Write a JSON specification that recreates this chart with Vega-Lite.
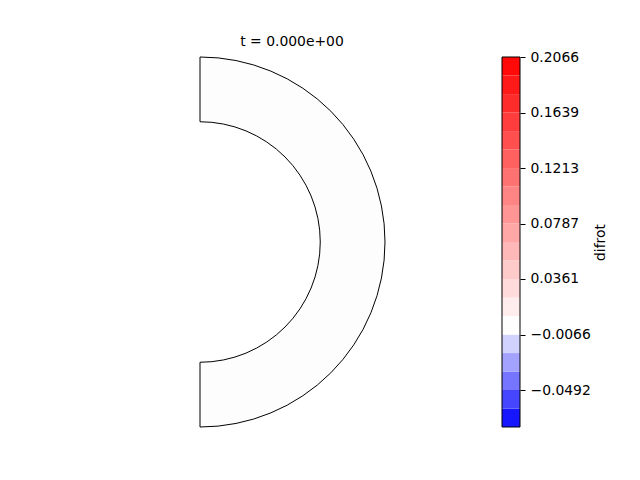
{
  "$schema": "https://vega.github.io/schema/vega-lite/v6.json",
  "padding": {"left": 15, "top": 35, "right": 5, "bottom": 5},
  "background": "white",
  "config": {"font": "DejaVu Sans", "view": {"stroke": null}},
  "bounds": "flush",
  "spacing": 117,
  "hconcat": [
    {
      "width": 370,
      "height": 370,
      "title": {"text": "t = 0.000e+00", "dx": 92, "fontSize": 13.9, "fontWeight": "normal", "font": "DejaVu Sans", "baseline": "alphabetic", "offset": -5, "color": "black", "anchor": "middle"},
      "data": {"values": [{"theta_start": 0, "theta_end": 180, "r_inner": 0.65, "r_outer": 1.0}]},
      "mark": {"type": "arc", "fill": "#fdfdfd", "stroke": "black", "strokeWidth": 1},
      "encoding": {
        "theta": {"field": "theta_start", "type": "quantitative", "stack": null, "scale": {"domain": [0, 360], "range": [0, 6.283185307179586]}},
        "theta2": {"field": "theta_end"},
        "radius": {"field": "r_inner", "type": "quantitative", "scale": {"type": "linear", "domain": [0, 1], "range": [0, 185], "zero": true}},
        "radius2": {"field": "r_outer"}
      }
    },
    {
      "width": 18,
      "height": 370,
      "data": {"values": [
        {"k": 0, "lo": -0.0776, "hi": -0.0634},
        {"k": 1, "lo": -0.0634, "hi": -0.0492},
        {"k": 2, "lo": -0.0492, "hi": -0.0350},
        {"k": 3, "lo": -0.0350, "hi": -0.0208},
        {"k": 4, "lo": -0.0208, "hi": -0.0066},
        {"k": 5, "lo": -0.0066, "hi": 0.0076},
        {"k": 6, "lo": 0.0076, "hi": 0.0218},
        {"k": 7, "lo": 0.0218, "hi": 0.0361},
        {"k": 8, "lo": 0.0361, "hi": 0.0503},
        {"k": 9, "lo": 0.0503, "hi": 0.0645},
        {"k": 10, "lo": 0.0645, "hi": 0.0787},
        {"k": 11, "lo": 0.0787, "hi": 0.0929},
        {"k": 12, "lo": 0.0929, "hi": 0.1071},
        {"k": 13, "lo": 0.1071, "hi": 0.1213},
        {"k": 14, "lo": 0.1213, "hi": 0.1355},
        {"k": 15, "lo": 0.1355, "hi": 0.1497},
        {"k": 16, "lo": 0.1497, "hi": 0.1639},
        {"k": 17, "lo": 0.1639, "hi": 0.1781},
        {"k": 18, "lo": 0.1781, "hi": 0.1924},
        {"k": 19, "lo": 0.1924, "hi": 0.2066}
      ]},
      "layer": [
        {
          "mark": {"type": "rect"},
          "encoding": {
            "y": {"field": "lo", "type": "quantitative",
              "scale": {"domain": [-0.0776, 0.2066], "nice": false, "zero": false},
              "axis": {"orient": "right", "values": [-0.0492, -0.0066, 0.0361, 0.0787, 0.1213, 0.1639, 0.2066], "format": ".4f",
                "title": "difrot", "titleFontWeight": "normal", "titleFontSize": 13.9, "titleColor": "black", "titleAngle": 270, "titlePadding": 17,
                "labelFontSize": 13.9, "labelColor": "black", "tickColor": "black", "tickSize": 5, "labelPadding": 5,
                "domain": false, "grid": false, "labelFlush": false, "labelOverlap": false}},
            "y2": {"field": "hi"},
            "color": {"field": "k", "type": "ordinal", "legend": null,
              "scale": {"domain": [0,1,2,3,4,5,6,7,8,9,10,11,12,13,14,15,16,17,18,19],
                "range": ["#1717ff","#4646ff","#7575ff","#a3a3ff","#d2d2ff","#fffefe","#ffeded","#ffdbdb","#ffcaca","#ffb8b8","#ffa7a7","#ff9595","#ff8484","#ff7272","#ff6060","#ff4f4f","#ff3d3d","#ff2c2c","#ff1a1a","#ff0909"]}}
          }
        },
        {
          "mark": {"type": "rect", "fillOpacity": 0, "stroke": "black", "strokeWidth": 1},
          "encoding": {
            "y": {"aggregate": "min", "field": "lo", "type": "quantitative"},
            "y2": {"aggregate": "max", "field": "hi"}
          }
        }
      ]
    }
  ]
}
